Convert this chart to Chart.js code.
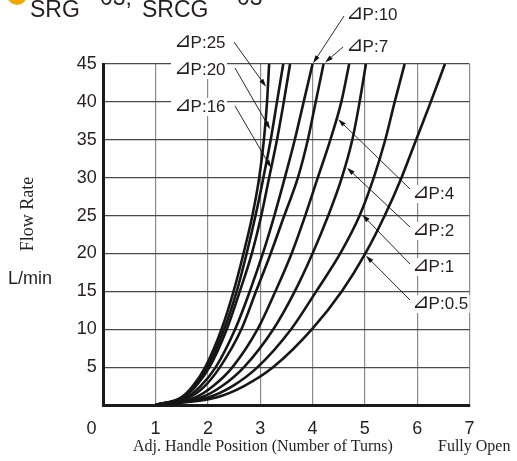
<!DOCTYPE html>
<html>
<head>
<meta charset="utf-8">
<script src="https://cdn.jsdelivr.net/npm/chart.js@4.4.0/dist/chart.umd.min.js"></script>
<style>
  html, body { margin: 0; padding: 0; background: #fff; }
  #wrap { position: relative; width: 517px; height: 461px; }
</style>
</head>
<body>
<div id="wrap"><canvas id="flowChart" width="517" height="461"></canvas></div>
<script>
const flowLevels = [0, 1, 2.5, 5, 10, 15, 20, 25, 30, 35, 40, 45];

// Handle position (turns) per pressure difference, one value per flow level
const turnsDP25 = [1.0, 1.49, 1.71, 1.95, 2.26, 2.49, 2.68, 2.85, 2.98, 3.07, 3.13, 3.17];
const turnsDP20 = [1.0, 1.51, 1.74, 1.99, 2.31, 2.55, 2.74, 2.91, 3.06, 3.20, 3.32, 3.44];
const turnsDP16 = [1.0, 1.53, 1.77, 2.03, 2.36, 2.61, 2.84, 3.02, 3.17, 3.32, 3.45, 3.57];
const turnsDP10 = [1.0, 1.59, 1.86, 2.15, 2.52, 2.80, 3.05, 3.27, 3.47, 3.66, 3.83, 4.00];
const turnsDP7  = [1.0, 1.64, 1.94, 2.23, 2.64, 2.92, 3.20, 3.46, 3.72, 3.91, 4.06, 4.21];
const turnsDP4  = [1.0, 1.76, 2.10, 2.47, 2.95, 3.29, 3.60, 3.86, 4.10, 4.34, 4.55, 4.70];
const turnsDP2  = [1.0, 1.87, 2.27, 2.69, 3.25, 3.66, 4.00, 4.30, 4.56, 4.76, 4.90, 5.02];
const turnsDP1  = [1.0, 2.00, 2.47, 2.95, 3.59, 4.07, 4.53, 4.90, 5.17, 5.39, 5.57, 5.76];
const turnsDP05 = [1.0, 2.16, 2.69, 3.25, 3.99, 4.56, 5.01, 5.38, 5.70, 5.98, 6.26, 6.53];

const curveLabels = ['⊿P:25', '⊿P:20', '⊿P:16', '⊿P:10', '⊿P:7', '⊿P:4', '⊿P:2', '⊿P:1', '⊿P:0.5'];
const curveTurns = [turnsDP25, turnsDP20, turnsDP16, turnsDP10, turnsDP7, turnsDP4, turnsDP2, turnsDP1, turnsDP05];

// Axis ticks
const xTicks = [0, 1, 2, 3, 4, 5, 6, 7];
const yTicks = [0, 5, 10, 15, 20, 25, 30, 35, 40, 45];

// Where each leader arrow touches its curve (turns, L/min)
const arrowTipTurns = [3.11, 3.19, 3.21, 4.01, 4.24, 4.49, 4.66, 4.95, 5.02];
const arrowTipFlow  = [42.0, 36.4, 31.3, 45.1, 45.2, 37.7, 31.3, 25.1, 19.7];

const SANS = '"Liberation Sans", Arial, "DejaVu Sans", sans-serif';
const SERIF = '"Liberation Serif", "Times New Roman", serif';
const INK = '#231f20';

// Label boxes and leader start points (layout, pixels)
const calloutLayout = [
    { lx: 175, ly: 43,  sx: 234, sy: 42 },
    { lx: 175, ly: 70,  sx: 235, sy: 68 },
    { lx: 175, ly: 107, sx: 235, sy: 106 },
    { lx: 347, ly: 15,  sx: 344, sy: 16 },
    { lx: 347, ly: 47,  sx: 343, sy: 47 },
    { lx: 413, ly: 194, sx: 410, sy: 189 },
    { lx: 413, ly: 231, sx: 410, sy: 227 },
    { lx: 413, ly: 267, sx: 410, sy: 264 },
    { lx: 413, ly: 304, sx: 410, sy: 300 }
];

function drawArrow(ctx, x0, y0, x1, y1) {
    const ang = Math.atan2(y1 - y0, x1 - x0);
    const len = 8, half = 2.4;
    ctx.beginPath();
    ctx.moveTo(x0, y0);
    ctx.lineTo(x1 - Math.cos(ang) * len * 0.6, y1 - Math.sin(ang) * len * 0.6);
    ctx.stroke();
    ctx.beginPath();
    ctx.moveTo(x1, y1);
    ctx.lineTo(x1 - Math.cos(ang) * len + Math.sin(ang) * half, y1 - Math.sin(ang) * len - Math.cos(ang) * half);
    ctx.lineTo(x1 - Math.cos(ang) * len - Math.sin(ang) * half, y1 - Math.sin(ang) * len + Math.cos(ang) * half);
    ctx.closePath();
    ctx.fill();
}

// the delta sign is set a little larger than the rest, as in the print
function drawCallout(ctx, label, x, y) {
    const sign = label.charAt(0), rest = label.slice(1);
    ctx.font = '21px "DejaVu Sans", sans-serif';
    const sw = ctx.measureText(sign).width;
    ctx.fillText(sign, x - 1, y - 1);
    ctx.font = '17px ' + SANS;
    ctx.fillText(rest, x - 1 + sw - 1, y);
    return sw - 2 + ctx.measureText(rest).width;
}

const calloutPlugin = {
    id: 'callouts',
    afterDatasetsDraw(chart) {
        const { ctx, scales: { x, y } } = chart;
        ctx.save();
        ctx.textBaseline = 'middle';
        ctx.textAlign = 'left';

        // white boxes knock out the grid behind the labels
        ctx.font = '17px ' + SANS;
        calloutLayout.forEach((c, i) => {
            const w = ctx.measureText(curveLabels[i].slice(1)).width + 14;
            ctx.fillStyle = '#fff';
            ctx.fillRect(c.lx - 4, c.ly - 9, w + 7, 18);
        });

        ctx.strokeStyle = '#111';
        ctx.fillStyle = '#111';
        ctx.lineWidth = 0.9;
        calloutLayout.forEach((c, i) => {
            const tx = x.getPixelForValue(arrowTipTurns[i]);
            const ty = y.getPixelForValue(arrowTipFlow[i]);
            drawArrow(ctx, c.sx, c.sy, tx, ty);
        });

        ctx.fillStyle = INK;
        calloutLayout.forEach((c, i) => drawCallout(ctx, curveLabels[i], c.lx, c.ly));
        ctx.restore();
    },
    afterDraw(chart) {
        const { ctx } = chart;
        ctx.save();

        // header (cut off at the top in the source)
        ctx.fillStyle = '#f2a900';
        ctx.beginPath();
        ctx.arc(17, -5, 10, 0, Math.PI * 2);
        ctx.fill();
        ctx.fillStyle = INK;
        ctx.font = '23px ' + SANS;
        ctx.textBaseline = 'alphabetic';
        ctx.fillText('SRG', 30, 16.5);
        ctx.fillText('03,', 100, 5);
        ctx.fillText('SRCG', 142, 16.5);
        ctx.fillText('03', 237, 5);

        // shared origin label
        ctx.font = '18px ' + SANS;
        ctx.textAlign = 'right';
        ctx.textBaseline = 'middle';
        ctx.fillText('0', 96.5, 429);

        // y axis titles
        ctx.textAlign = 'left';
        ctx.fillText('L/min', 8, 279);
        ctx.save();
        ctx.translate(28, 214);
        ctx.rotate(-Math.PI / 2);
        ctx.font = '18px ' + SERIF;
        ctx.textAlign = 'center';
        ctx.fillText('Flow Rate', 0, 0);
        ctx.restore();

        // x axis titles
        ctx.font = '16px ' + SERIF;
        ctx.textAlign = 'left';
        ctx.fillText('Adj. Handle Position (Number of Turns)', 133, 447);
        ctx.fillText('Fully Open', 438, 447);
        ctx.restore();
    }
};

const datasets = curveTurns.map((turns, i) => ({
    label: curveLabels[i],
    data: flowLevels.map((q, j) => ({ x: turns[j], y: q })),
    borderColor: '#161616',
    borderWidth: 2.6,
    pointRadius: 0,
    fill: false,
    cubicInterpolationMode: 'monotone'
}));

new Chart(document.getElementById('flowChart'), {
    type: 'line',
    data: { datasets },
    options: {
        responsive: false,
        animation: false,
        devicePixelRatio: 1,
        layout: { padding: { top: 64, right: 47.5, left: 0, bottom: 0 } },
        plugins: {
            legend: { display: false },
            tooltip: { enabled: false }
        },
        scales: {
            x: {
                type: 'linear',
                min: xTicks[0],
                max: xTicks[xTicks.length - 1],
                afterFit: s => { s.height = 56; },
                afterBuildTicks: s => { s.ticks = xTicks.map(v => ({ value: v })); },
                grid: { color: '#8a8a8a', lineWidth: 1.2, drawTicks: false },
                border: { display: true, color: '#1a1a1a', width: 3 },
                ticks: {
                    callback: v => v === 0 ? '' : v,
                    padding: 13,
                    color: INK,
                    font: { family: SANS, size: 18 },
                    maxRotation: 0,
                    autoSkip: false
                }
            },
            y: {
                type: 'linear',
                min: yTicks[0],
                max: yTicks[yTicks.length - 1],
                afterFit: s => { s.width = 103.3; },
                afterBuildTicks: s => { s.ticks = yTicks.map(v => ({ value: v })); },
                grid: { color: '#4a4a4a', lineWidth: 1.2, drawTicks: false },
                border: { display: true, color: '#1a1a1a', width: 3 },
                ticks: {
                    callback: v => v === 0 ? '' : v,
                    padding: 6.5,
                    color: INK,
                    font: { family: SANS, size: 18 },
                    autoSkip: false
                }
            }
        }
    },
    plugins: [calloutPlugin]
});
</script>
</body>
</html>
